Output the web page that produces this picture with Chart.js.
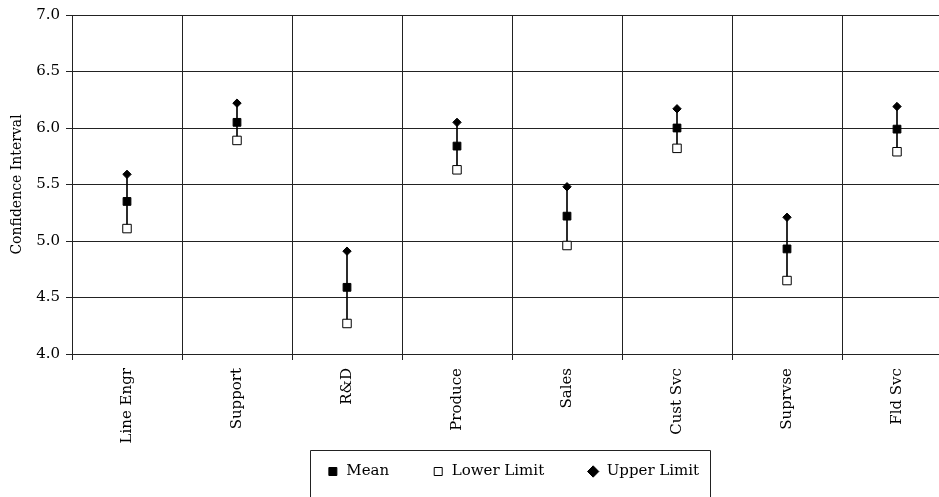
<!DOCTYPE html>
<html>
<head>
<meta charset="utf-8">
<script src="https://cdn.jsdelivr.net/npm/chart.js@4/dist/chart.umd.min.js"></script>
<style>
  html, body { margin: 0; padding: 0; background: #fff; overflow: hidden; }
  #wrap { width: 1026px; height: 517px; }
</style>
</head>
<body>
<div id="wrap"><canvas id="myChart"></canvas></div>
<script>
// data (7-point scale, decimals faint in the scan)
const categories = ['Line Engr', 'Support', 'R&D', 'Produce', 'Sales', 'Cust Svc', 'Suprvse', 'Fld Svc'];
const meanValues  = [5.35, 6.05, 4.59, 5.84, 5.22, 6.00, 4.93, 5.99];
const lowerValues = [5.11, 5.89, 4.27, 5.63, 4.96, 5.82, 4.65, 5.79];
const upperValues = [5.59, 6.22, 4.91, 6.05, 5.48, 6.17, 5.21, 6.19];
const yTicks = [4.0, 4.5, 5.0, 5.5, 6.0, 6.5, 7.0];

const serif = 'DejaVu Serif';

// pull the legend up under the labels and box it, like the old spreadsheet chart
const legendFrame = {
    id: 'legendFrame',
    afterUpdate(chart) {
        const lg = chart.legend;
        const dy = -28;
        lg.top += dy;
        lg.bottom += dy;
        lg.legendHitBoxes.forEach(h => { h.top += dy; });
    },
    afterDraw(chart) {
        const boxes = chart.legend.legendHitBoxes;
        if (!boxes || !boxes.length) return;
        const first = boxes[0];
        const last = boxes[boxes.length - 1];
        const cy = first.top + first.height / 2;
        const ctx = chart.ctx;
        ctx.save();
        ctx.strokeStyle = '#222';
        ctx.lineWidth = 1;
        const x0 = Math.round(first.left - 17) + 0.5;
        const x1 = Math.round(last.left + last.width + 11) + 0.5;
        const y0 = Math.round(cy - 22) + 0.5;
        // box runs off the bottom of the page, as in the scan
        ctx.beginPath();
        ctx.moveTo(x0, chart.height + 5);
        ctx.lineTo(x0, y0);
        ctx.lineTo(x1, y0);
        ctx.lineTo(x1, chart.height + 5);
        ctx.stroke();
        ctx.restore();
    }
};

const data = {
    labels: categories,
    datasets: [
        {
            type: 'line',
            label: 'Mean',
            data: meanValues,
            showLine: false,
            pointStyle: 'rect',
            pointRadius: 5.5,
            pointBackgroundColor: '#000',
            pointBorderColor: '#000',
            pointBorderWidth: 1,
            order: 1
        },
        {
            type: 'line',
            label: 'Lower Limit',
            data: lowerValues,
            showLine: false,
            pointStyle: 'rect',
            pointRadius: 6,
            pointBackgroundColor: '#fff',
            pointBorderColor: '#000',
            pointBorderWidth: 1,
            order: 1
        },
        {
            type: 'line',
            label: 'Upper Limit',
            data: upperValues,
            showLine: false,
            pointStyle: 'rectRot',
            pointRadius: 4.2,
            pointBackgroundColor: '#000',
            pointBorderColor: '#000',
            pointBorderWidth: 1,
            order: 1
        },
        {
            // vertical connector lower -> upper
            type: 'bar',
            label: 'range',
            data: categories.map((c, i) => [lowerValues[i], upperValues[i]]),
            backgroundColor: '#000',
            barThickness: 1,
            order: 2
        }
    ]
};

const config = {
    type: 'bar',
    data,
    options: {
        responsive: true,
        maintainAspectRatio: false,
        animation: false,
        layout: { padding: { top: 14, left: 0, right: 0, bottom: 0 } },
        scales: {
            x: {
                type: 'category',
                offset: true,
                grid: {
                    offset: true,
                    color: '#222',
                    lineWidth: 1,
                    tickLength: 6
                },
                border: { color: '#222' },
                ticks: {
                    maxRotation: 90,
                    minRotation: 90,
                    padding: 8,
                    color: '#000',
                    font: { family: serif, size: 15 }
                },
                afterFit(scale) { scale.height = 95; }
            },
            y: {
                min: 4,
                max: 7,
                afterBuildTicks(scale) { scale.ticks = yTicks.map(v => ({ value: v })); },
                grid: { color: '#222', lineWidth: 1, tickLength: 6 },
                border: { color: '#222' },
                ticks: {
                    padding: 6,
                    color: '#000',
                    font: { family: serif, size: 15 },
                    callback: v => Number(v).toFixed(1)
                },
                title: {
                    display: true,
                    text: 'Confidence Interval',
                    color: '#000',
                    font: { family: serif, size: 14 },
                    padding: { top: 9, bottom: 0 }
                },
                afterFit(scale) { scale.width = 72; }
            },
            // empty right-hand strip, the plot runs past the cut edge
            yRight: {
                position: 'right',
                min: 4,
                max: 7,
                grid: { display: false },
                border: { display: false },
                ticks: { display: false },
                afterFit(scale) { scale.width = 74; }
            }
        },
        plugins: {
            legend: {
                position: 'bottom',
                labels: {
                    usePointStyle: true,
                    boxWidth: 12,
                    boxHeight: 8,
                    padding: 43,
                    color: '#000',
                    font: { family: serif, size: 15 },
                    filter: item => item.text !== 'range'
                }
            },
            tooltip: { enabled: false }
        }
    },
    plugins: [legendFrame]
};

const myChart = new Chart(document.getElementById('myChart'), config);
</script>
</body>
</html>
